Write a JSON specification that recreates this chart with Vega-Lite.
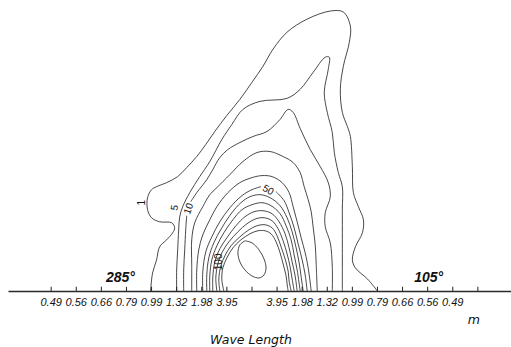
{
  "$schema": "https://vega.github.io/schema/vega-lite/v6.json",
  "width": 503,
  "height": 291,
  "autosize": {"type": "none"},
  "padding": {"left": 8, "top": 0, "right": 0, "bottom": 56},
  "background": "white",
  "config": {"view": {"stroke": null}},
  "datasets": {
    "contours": [
      {"seg":"1","lev":1,"x":-4.04,"y":0},{"seg":"1","lev":1,"x":-3.96,"y":0.72},{"seg":"1","lev":1,"x":-3.80,"y":1.24},{"seg":"1","lev":1,"x":-3.68,"y":1.76},{"seg":"1","lev":1,"x":-3.40,"y":2.04},{"seg":"1","lev":1,"x":-3.16,"y":2.32},{"seg":"1","lev":1,"x":-3.08,"y":2.52},{"seg":"1","lev":1,"x":-3.20,"y":2.72},{"seg":"1","lev":1,"x":-3.68,"y":2.76},{"seg":"1","lev":1,"x":-4.00,"y":2.92},{"seg":"1","lev":1,"x":-4.16,"y":3.24},{"seg":"1","lev":1,"x":-4.16,"y":3.72},{"seg":"1","lev":1,"x":-4.00,"y":4.04},{"seg":"1","lev":1,"x":-3.80,"y":4.16},{"seg":"1","lev":1,"x":-3.40,"y":4.32},{"seg":"1","lev":1,"x":-2.96,"y":4.56},{"seg":"1","lev":1,"x":-2.60,"y":4.92},{"seg":"1","lev":1,"x":-2.20,"y":5.36},{"seg":"1","lev":1,"x":-1.84,"y":5.84},{"seg":"1","lev":1,"x":-1.48,"y":6.36},{"seg":"1","lev":1,"x":-1.00,"y":7.00},{"seg":"1","lev":1,"x":-0.48,"y":7.64},{"seg":"1","lev":1,"x":0,"y":8.32},{"seg":"1","lev":1,"x":0.44,"y":8.96},{"seg":"1","lev":1,"x":0.84,"y":9.64},{"seg":"1","lev":1,"x":1.40,"y":10.32},{"seg":"1","lev":1,"x":2.20,"y":10.84},{"seg":"1","lev":1,"x":3.12,"y":11.16},{"seg":"1","lev":1,"x":3.64,"y":11.12},{"seg":"1","lev":1,"x":3.92,"y":10.56},{"seg":"1","lev":1,"x":3.88,"y":9.92},{"seg":"1","lev":1,"x":3.64,"y":8.96},{"seg":"1","lev":1,"x":3.52,"y":8.04},{"seg":"1","lev":1,"x":3.60,"y":7.12},{"seg":"1","lev":1,"x":3.80,"y":6.56},{"seg":"1","lev":1,"x":3.92,"y":6.16},{"seg":"1","lev":1,"x":4.00,"y":4.96},{"seg":"1","lev":1,"x":4.04,"y":3.92},{"seg":"1","lev":1,"x":4.24,"y":3.36},{"seg":"1","lev":1,"x":4.44,"y":2.84},{"seg":"1","lev":1,"x":4.40,"y":2.32},{"seg":"1","lev":1,"x":4.12,"y":1.76},{"seg":"1","lev":1,"x":4.00,"y":1.24},{"seg":"1","lev":1,"x":4.12,"y":0.92},{"seg":"1","lev":1,"x":4.60,"y":0.48},{"seg":"1","lev":1,"x":5.00,"y":0},

      {"seg":"5","lev":5,"x":-3.00,"y":0},{"seg":"5","lev":5,"x":-3.00,"y":0.84},{"seg":"5","lev":5,"x":-2.96,"y":1.64},{"seg":"5","lev":5,"x":-2.92,"y":2.44},{"seg":"5","lev":5,"x":-2.88,"y":2.96},{"seg":"5","lev":5,"x":-2.76,"y":3.36},{"seg":"5","lev":5,"x":-2.48,"y":3.92},{"seg":"5","lev":5,"x":-2.08,"y":4.56},{"seg":"5","lev":5,"x":-1.68,"y":5.16},{"seg":"5","lev":5,"x":-1.20,"y":6.04},{"seg":"5","lev":5,"x":-0.80,"y":6.64},{"seg":"5","lev":5,"x":-0.36,"y":7.24},{"seg":"5","lev":5,"x":0.32,"y":7.56},{"seg":"5","lev":5,"x":1.40,"y":7.68},{"seg":"5","lev":5,"x":1.92,"y":8.04},{"seg":"5","lev":5,"x":2.44,"y":8.72},{"seg":"5","lev":5,"x":2.92,"y":9.32},{"seg":"5","lev":5,"x":3.08,"y":9.32},{"seg":"5","lev":5,"x":3.04,"y":8.84},{"seg":"5","lev":5,"x":2.88,"y":7.92},{"seg":"5","lev":5,"x":3.00,"y":7.12},{"seg":"5","lev":5,"x":3.20,"y":6.32},{"seg":"5","lev":5,"x":3.28,"y":5.52},{"seg":"5","lev":5,"x":3.44,"y":4.72},{"seg":"5","lev":5,"x":3.60,"y":4.16},{"seg":"5","lev":5,"x":3.60,"y":3.24},{"seg":"5","lev":5,"x":3.60,"y":2.04},{"seg":"5","lev":5,"x":3.60,"y":0.96},{"seg":"5","lev":5,"x":3.60,"y":0},

      {"seg":"10a","lev":10,"x":-2.72,"y":0},{"seg":"10a","lev":10,"x":-2.72,"y":0.84},{"seg":"10a","lev":10,"x":-2.68,"y":1.64},{"seg":"10a","lev":10,"x":-2.64,"y":2.44},{"seg":"10a","lev":10,"x":-2.60,"y":3.00},
      {"seg":"10b","lev":10,"x":-2.44,"y":3.56},{"seg":"10b","lev":10,"x":-2.20,"y":3.92},{"seg":"10b","lev":10,"x":-1.80,"y":4.44},{"seg":"10b","lev":10,"x":-1.56,"y":4.84},{"seg":"10b","lev":10,"x":-1.28,"y":5.32},{"seg":"10b","lev":10,"x":-0.96,"y":5.64},{"seg":"10b","lev":10,"x":-0.48,"y":5.92},{"seg":"10b","lev":10,"x":0.04,"y":6.16},{"seg":"10b","lev":10,"x":0.60,"y":6.36},{"seg":"10b","lev":10,"x":1.12,"y":6.84},{"seg":"10b","lev":10,"x":1.44,"y":7.24},{"seg":"10b","lev":10,"x":1.64,"y":7.12},{"seg":"10b","lev":10,"x":1.92,"y":6.48},{"seg":"10b","lev":10,"x":2.32,"y":5.64},{"seg":"10b","lev":10,"x":2.72,"y":4.96},{"seg":"10b","lev":10,"x":3.04,"y":4.32},{"seg":"10b","lev":10,"x":3.12,"y":3.76},{"seg":"10b","lev":10,"x":2.92,"y":3.12},{"seg":"10b","lev":10,"x":2.92,"y":2.56},{"seg":"10b","lev":10,"x":3.12,"y":1.92},{"seg":"10b","lev":10,"x":3.20,"y":0.96},{"seg":"10b","lev":10,"x":3.20,"y":0},

      {"seg":"20","lev":20,"x":-2.40,"y":0},{"seg":"20","lev":20,"x":-2.40,"y":1.04},{"seg":"20","lev":20,"x":-2.40,"y":2.04},{"seg":"20","lev":20,"x":-2.28,"y":2.72},{"seg":"20","lev":20,"x":-1.96,"y":3.36},{"seg":"20","lev":20,"x":-1.68,"y":3.84},{"seg":"20","lev":20,"x":-1.40,"y":4.12},{"seg":"20","lev":20,"x":-0.88,"y":4.64},{"seg":"20","lev":20,"x":-0.36,"y":5.16},{"seg":"20","lev":20,"x":0.20,"y":5.52},{"seg":"20","lev":20,"x":0.72,"y":5.56},{"seg":"20","lev":20,"x":1.24,"y":5.36},{"seg":"20","lev":20,"x":1.64,"y":5.12},{"seg":"20","lev":20,"x":1.92,"y":4.72},{"seg":"20","lev":20,"x":2.08,"y":4.16},{"seg":"20","lev":20,"x":2.24,"y":3.64},{"seg":"20","lev":20,"x":2.36,"y":3.16},{"seg":"20","lev":20,"x":2.44,"y":2.52},{"seg":"20","lev":20,"x":2.52,"y":1.84},{"seg":"20","lev":20,"x":2.56,"y":1.04},{"seg":"20","lev":20,"x":2.60,"y":0},

      {"seg":"30","lev":30,"x":-2.20,"y":0},{"seg":"30","lev":30,"x":-2.20,"y":0.84},{"seg":"30","lev":30,"x":-2.12,"y":1.64},{"seg":"30","lev":30,"x":-1.96,"y":2.24},{"seg":"30","lev":30,"x":-1.68,"y":2.84},{"seg":"30","lev":30,"x":-1.40,"y":3.36},{"seg":"30","lev":30,"x":-0.96,"y":3.92},{"seg":"30","lev":30,"x":-0.48,"y":4.32},{"seg":"30","lev":30,"x":0,"y":4.52},{"seg":"30","lev":30,"x":0.40,"y":4.60},{"seg":"30","lev":30,"x":0.80,"y":4.56},{"seg":"30","lev":30,"x":1.20,"y":4.32},{"seg":"30","lev":30,"x":1.48,"y":3.92},{"seg":"30","lev":30,"x":1.64,"y":3.36},{"seg":"30","lev":30,"x":1.80,"y":2.76},{"seg":"30","lev":30,"x":1.96,"y":2.12},{"seg":"30","lev":30,"x":2.12,"y":1.52},{"seg":"30","lev":30,"x":2.24,"y":0.92},{"seg":"30","lev":30,"x":2.36,"y":0},

      {"seg":"40a","lev":40,"x":-1.96,"y":0},{"seg":"40a","lev":40,"x":-1.96,"y":0.76},{"seg":"40a","lev":40,"x":-1.84,"y":1.56},{"seg":"40a","lev":40,"x":-1.60,"y":2.16},{"seg":"40a","lev":40,"x":-1.28,"y":2.76},{"seg":"40a","lev":40,"x":-0.88,"y":3.32},{"seg":"40a","lev":40,"x":-0.40,"y":3.80},{"seg":"40a","lev":40,"x":0,"y":4.04},{"seg":"40a","lev":40,"x":0.36,"y":4.16},
      {"seg":"40b","lev":40,"x":0.96,"y":3.96},{"seg":"40b","lev":40,"x":1.28,"y":3.60},{"seg":"40b","lev":40,"x":1.48,"y":3.12},{"seg":"40b","lev":40,"x":1.68,"y":2.52},{"seg":"40b","lev":40,"x":1.84,"y":1.88},{"seg":"40b","lev":40,"x":2.00,"y":1.24},{"seg":"40b","lev":40,"x":2.12,"y":0.64},{"seg":"40b","lev":40,"x":2.20,"y":0},

      {"seg":"50","lev":50,"x":-1.80,"y":0},{"seg":"50","lev":50,"x":-1.80,"y":0.64},{"seg":"50","lev":50,"x":-1.72,"y":1.32},{"seg":"50","lev":50,"x":-1.52,"y":1.92},{"seg":"50","lev":50,"x":-1.20,"y":2.52},{"seg":"50","lev":50,"x":-0.80,"y":3.12},{"seg":"50","lev":50,"x":-0.44,"y":3.52},{"seg":"50","lev":50,"x":-0.08,"y":3.76},{"seg":"50","lev":50,"x":0.32,"y":3.84},{"seg":"50","lev":50,"x":0.72,"y":3.72},{"seg":"50","lev":50,"x":1.12,"y":3.40},{"seg":"50","lev":50,"x":1.40,"y":2.92},{"seg":"50","lev":50,"x":1.60,"y":2.36},{"seg":"50","lev":50,"x":1.76,"y":1.72},{"seg":"50","lev":50,"x":1.88,"y":1.12},{"seg":"50","lev":50,"x":1.96,"y":0.56},{"seg":"50","lev":50,"x":2.04,"y":0},

      {"seg":"60","lev":60,"x":-1.68,"y":0},{"seg":"60","lev":60,"x":-1.68,"y":0.60},{"seg":"60","lev":60,"x":-1.60,"y":1.24},{"seg":"60","lev":60,"x":-1.40,"y":1.80},{"seg":"60","lev":60,"x":-1.12,"y":2.32},{"seg":"60","lev":60,"x":-0.76,"y":2.84},{"seg":"60","lev":60,"x":-0.40,"y":3.24},{"seg":"60","lev":60,"x":0,"y":3.44},{"seg":"60","lev":60,"x":0.40,"y":3.52},{"seg":"60","lev":60,"x":0.76,"y":3.40},{"seg":"60","lev":60,"x":1.12,"y":3.08},{"seg":"60","lev":60,"x":1.36,"y":2.60},{"seg":"60","lev":60,"x":1.56,"y":2.04},{"seg":"60","lev":60,"x":1.68,"y":1.44},{"seg":"60","lev":60,"x":1.80,"y":0.84},{"seg":"60","lev":60,"x":1.92,"y":0},

      {"seg":"70","lev":70,"x":-1.56,"y":0},{"seg":"70","lev":70,"x":-1.56,"y":0.56},{"seg":"70","lev":70,"x":-1.48,"y":1.16},{"seg":"70","lev":70,"x":-1.28,"y":1.68},{"seg":"70","lev":70,"x":-1.00,"y":2.12},{"seg":"70","lev":70,"x":-0.64,"y":2.60},{"seg":"70","lev":70,"x":-0.28,"y":2.96},{"seg":"70","lev":70,"x":0.08,"y":3.16},{"seg":"70","lev":70,"x":0.44,"y":3.20},{"seg":"70","lev":70,"x":0.80,"y":3.08},{"seg":"70","lev":70,"x":1.08,"y":2.76},{"seg":"70","lev":70,"x":1.32,"y":2.28},{"seg":"70","lev":70,"x":1.48,"y":1.72},{"seg":"70","lev":70,"x":1.60,"y":1.16},{"seg":"70","lev":70,"x":1.72,"y":0.60},{"seg":"70","lev":70,"x":1.80,"y":0},

      {"seg":"80","lev":80,"x":-1.40,"y":0},{"seg":"80","lev":80,"x":-1.44,"y":0.52},{"seg":"80","lev":80,"x":-1.36,"y":1.08},{"seg":"80","lev":80,"x":-1.20,"y":1.52},{"seg":"80","lev":80,"x":-0.92,"y":1.96},{"seg":"80","lev":80,"x":-0.56,"y":2.36},{"seg":"80","lev":80,"x":-0.20,"y":2.68},{"seg":"80","lev":80,"x":0.16,"y":2.88},{"seg":"80","lev":80,"x":0.48,"y":2.92},{"seg":"80","lev":80,"x":0.80,"y":2.80},{"seg":"80","lev":80,"x":1.04,"y":2.48},{"seg":"80","lev":80,"x":1.24,"y":2.00},{"seg":"80","lev":80,"x":1.40,"y":1.48},{"seg":"80","lev":80,"x":1.52,"y":0.96},{"seg":"80","lev":80,"x":1.60,"y":0.48},{"seg":"80","lev":80,"x":1.68,"y":0},

      {"seg":"90","lev":90,"x":-1.28,"y":0},{"seg":"90","lev":90,"x":-1.32,"y":0.48},{"seg":"90","lev":90,"x":-1.24,"y":1.00},{"seg":"90","lev":90,"x":-1.08,"y":1.40},{"seg":"90","lev":90,"x":-0.84,"y":1.80},{"seg":"90","lev":90,"x":-0.48,"y":2.16},{"seg":"90","lev":90,"x":-0.12,"y":2.44},{"seg":"90","lev":90,"x":0.20,"y":2.60},{"seg":"90","lev":90,"x":0.52,"y":2.64},{"seg":"90","lev":90,"x":0.80,"y":2.52},{"seg":"90","lev":90,"x":1.00,"y":2.20},{"seg":"90","lev":90,"x":1.16,"y":1.76},{"seg":"90","lev":90,"x":1.32,"y":1.28},{"seg":"90","lev":90,"x":1.44,"y":0.80},{"seg":"90","lev":90,"x":1.48,"y":0.40},{"seg":"90","lev":90,"x":1.56,"y":0},

      {"seg":"100","lev":100,"x":-1.12,"y":0},{"seg":"100","lev":100,"x":-1.20,"y":0.44},{"seg":"100","lev":100,"x":-1.16,"y":0.92},{"seg":"100","lev":100,"x":-1.00,"y":1.32},{"seg":"100","lev":100,"x":-0.76,"y":1.72},{"seg":"100","lev":100,"x":-0.44,"y":2.04},{"seg":"100","lev":100,"x":-0.08,"y":2.28},{"seg":"100","lev":100,"x":0.24,"y":2.40},{"seg":"100","lev":100,"x":0.52,"y":2.40},{"seg":"100","lev":100,"x":0.76,"y":2.28},{"seg":"100","lev":100,"x":0.96,"y":1.96},{"seg":"100","lev":100,"x":1.12,"y":1.52},{"seg":"100","lev":100,"x":1.24,"y":1.08},{"seg":"100","lev":100,"x":1.36,"y":0.60},{"seg":"100","lev":100,"x":1.40,"y":0.28},{"seg":"100","lev":100,"x":1.44,"y":0},

      {"seg":"150","lev":150,"x":-0.28,"y":2.00},{"seg":"150","lev":150,"x":0,"y":1.92},{"seg":"150","lev":150,"x":0.28,"y":1.64},{"seg":"150","lev":150,"x":0.48,"y":1.28},{"seg":"150","lev":150,"x":0.56,"y":0.92},{"seg":"150","lev":150,"x":0.48,"y":0.64},{"seg":"150","lev":150,"x":0.28,"y":0.52},{"seg":"150","lev":150,"x":0,"y":0.60},{"seg":"150","lev":150,"x":-0.28,"y":0.84},{"seg":"150","lev":150,"x":-0.48,"y":1.16},{"seg":"150","lev":150,"x":-0.56,"y":1.52},{"seg":"150","lev":150,"x":-0.48,"y":1.84},{"seg":"150","lev":150,"x":-0.28,"y":2.00}
    ],
    "ticks": [
      {"t":-8,"lab":"0.49"},{"t":-7,"lab":"0.56"},{"t":-6,"lab":"0.66"},{"t":-5,"lab":"0.79"},{"t":-4,"lab":"0.99"},{"t":-3,"lab":"1.32"},{"t":-2,"lab":"1.98"},{"t":-1,"lab":"3.95"},{"t":0,"lab":""},{"t":1,"lab":"3.95"},{"t":2,"lab":"1.98"},{"t":3,"lab":"1.32"},{"t":4,"lab":"0.99"},{"t":5,"lab":"0.79"},{"t":6,"lab":"0.66"},{"t":7,"lab":"0.56"},{"t":8,"lab":"0.49"},{"t":9,"lab":""}
    ],
    "levelLabels": [
      {"txt":"1","x":-4.40,"y":3.52,"ang":-90},
      {"txt":"5","x":-3.08,"y":3.32,"ang":-80},
      {"txt":"10","x":-2.52,"y":3.28,"ang":-70},
      {"txt":"50","x":0.64,"y":4.02,"ang":30},
      {"txt":"100","x":-1.30,"y":1.16,"ang":-90}
    ],
    "directions": [
      {"txt":"285°","x":-5.24,"y":0.52},
      {"txt":"105°","x":7.04,"y":0.52}
    ],
    "titles": [
      {"txt":"m","x":8.84,"y":-1.16},
      {"txt":"Wave Length","x":-0.04,"y":-1.96}
    ]
  },
  "layer": [
    {
      "data": {"name": "contours"},
      "mark": {"type": "line", "interpolate": "catmull-rom", "color": "#1a1a1a", "clip": false},
      "encoding": {
        "x": {
          "field": "x", "type": "quantitative",
          "scale": {"domain": [-9.72, 10.32], "nice": false, "zero": false},
          "axis": {
            "title": null, "grid": false, "ticks": false, "labels": false,
            "domainColor": "#2a2a2a", "domainWidth": 1.6
          }
        },
        "y": {
          "field": "y", "type": "quantitative",
          "scale": {"domain": [0, 11.6], "nice": false, "zero": false},
          "axis": null
        },
        "detail": {"field": "seg"},
        "order": {"value": null},
        "strokeWidth": {
          "field": "lev", "type": "ordinal", "legend": null,
          "scale": {"domain": [1,5,10,20,30,40,50,60,70,80,90,100,150], "range": [0.8,0.8,1.7,0.8,0.8,0.8,1.7,0.8,0.8,0.8,0.8,1.7,0.8]}
        }
      }
    },
    {
      "data": {"name": "ticks"},
      "mark": {"type": "rule", "color": "#222", "strokeWidth": 1},
      "encoding": {
        "x": {"field": "t", "type": "quantitative"},
        "y": {"datum": 0},
        "y2": {"datum": 0.17}
      }
    },
    {
      "data": {"name": "ticks"},
      "mark": {"type": "text", "font": "Liberation Sans", "fontStyle": "italic", "fontSize": 11, "color": "#111", "baseline": "middle", "dy": 12, "clip": false},
      "encoding": {
        "x": {"field": "t", "type": "quantitative"},
        "y": {"datum": 0},
        "text": {"field": "lab"}
      }
    },
    {
      "data": {"name": "levelLabels"},
      "mark": {"type": "text", "font": "Liberation Sans", "fontSize": 10, "color": "#111"},
      "encoding": {
        "x": {"field": "x", "type": "quantitative"},
        "y": {"field": "y", "type": "quantitative"},
        "text": {"field": "txt"},
        "angle": {"field": "ang", "type": "quantitative", "scale": null}
      }
    },
    {
      "data": {"name": "directions"},
      "mark": {"type": "text", "font": "Liberation Sans", "fontSize": 14, "fontStyle": "italic", "fontWeight": "bold", "color": "#111"},
      "encoding": {
        "x": {"field": "x", "type": "quantitative"},
        "y": {"field": "y", "type": "quantitative"},
        "text": {"field": "txt"}
      }
    },
    {
      "data": {"name": "titles"},
      "mark": {"type": "text", "font": "DejaVu Sans", "fontSize": 12.5, "fontStyle": "italic", "color": "#111", "clip": false},
      "encoding": {
        "x": {"field": "x", "type": "quantitative"},
        "y": {"field": "y", "type": "quantitative"},
        "text": {"field": "txt"}
      }
    }
  ]
}
